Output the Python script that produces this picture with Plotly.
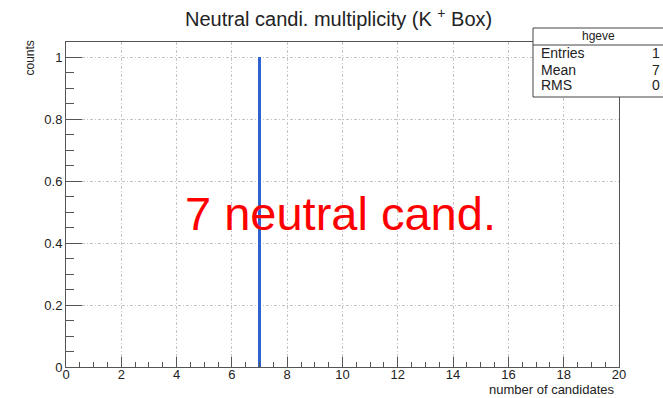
import plotly.graph_objects as go

# histogram content: one event with 7 neutral candidates
candidates = [7]
counts = [1]

x_range = [0, 20]
y_range = [0, 1.05]

stats_labels = ["Entries", "Mean", "RMS"]
stats_values = ["1", "7", "0"]

W, H = 663, 398
L, R, T, B = 66, 44, 42, 31
pw, ph = W - L - R, H - T - B


def px(x):
    return (x - L) / pw


def py(y):
    return (H - B - y) / ph


FONT = "Liberation Sans, Arial, sans-serif"
TXT = "#222"

fig = go.Figure()
fig.add_trace(go.Bar(
    x=candidates, y=counts, width=0.14,
    marker=dict(color="#2f63d1", line=dict(width=0)),
    showlegend=False,
))

axis_common = dict(
    showline=True, linecolor="#555", linewidth=1, mirror=True,
    ticks="inside", tickcolor="#555",
    showgrid=True, gridcolor="#c4c4c4", griddash="3px,2px,1px,2px", gridwidth=1,
    zeroline=False,
    tickfont=dict(family=FONT, size=13, color=TXT),
)

fig.update_layout(
    width=W, height=H,
    margin=dict(l=L, r=R, t=T, b=B),
    paper_bgcolor="white", plot_bgcolor="white",
    font=dict(family=FONT, color=TXT),
    bargap=0,
    xaxis=dict(range=x_range, dtick=2, ticklen=10, tickwidth=1, ticklabelstandoff=-5,
               minor=dict(ticks="inside", dtick=0.5, ticklen=5, tickcolor="#555", showgrid=False),
               **axis_common),
    yaxis=dict(range=y_range, dtick=0.2, ticklen=16, tickwidth=1,
               minor=dict(ticks="inside", dtick=0.05, ticklen=8, tickcolor="#555", showgrid=False),
               **axis_common),
)

annotations = [
    dict(text="Neutral candi. multiplicity (K <sup>+</sup> Box)", x=px(338), y=py(18),
         font=dict(size=20, family=FONT, color=TXT)),
    dict(text="counts", x=px(29), y=py(39), yanchor="top", textangle=-90,
         font=dict(size=12, family=FONT, color=TXT)),
    dict(text="number of candidates", x=px(617), y=py(389), xanchor="right",
         font=dict(size=13, family=FONT, color=TXT)),
    dict(text="7 neutral cand.", x=px(340), y=py(214),
         font=dict(size=47, family=FONT, color="#ff0000")),
    dict(text="hgeve", x=px(598), y=py(36),
         font=dict(size=12, family=FONT, color=TXT)),
]
row_y = [53, 70, 85]
for lab, val, ry in zip(stats_labels, stats_values, row_y):
    annotations.append(dict(text=lab, x=px(539), y=py(ry), xanchor="left",
                            font=dict(size=14, family=FONT, color=TXT)))
    annotations.append(dict(text=val, x=px(662), y=py(ry), xanchor="right",
                            font=dict(size=14, family=FONT, color=TXT)))
for a in annotations:
    a.update(xref="paper", yref="paper", showarrow=False)
    a.setdefault("xanchor", "center")
    a.setdefault("yanchor", "middle")
fig.update_layout(annotations=annotations)

# statistics box
fig.add_shape(type="rect", xref="paper", yref="paper",
              x0=px(533), x1=px(670), y0=py(97), y1=py(28),
              fillcolor="white", line=dict(color="#444", width=1), layer="above")
fig.add_shape(type="line", xref="paper", yref="paper",
              x0=px(533), x1=px(670), y0=py(45), y1=py(45),
              line=dict(color="#444", width=1), layer="above")

fig.write_html("out.html")
